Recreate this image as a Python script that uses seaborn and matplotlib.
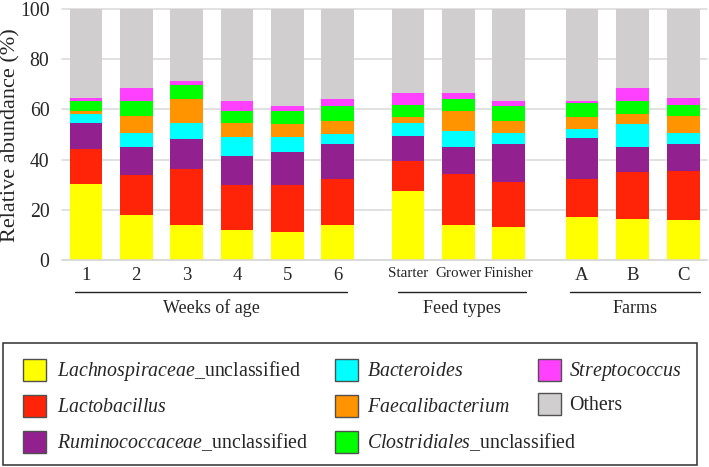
import matplotlib
matplotlib.use("Agg")
import matplotlib.pyplot as plt
from matplotlib.patches import Rectangle
import seaborn as sns
import numpy as np

# ---------------- data ----------------
bars = ["1", "2", "3", "4", "5", "6", "Starter", "Grower", "Finisher", "A", "B", "C"]
positions = [0, 1, 2, 3, 4, 5, 6.4, 7.4, 8.4, 9.86, 10.87, 11.88]
groups = ["Weeks of age", "Feed types", "Farms"]

lachno = [30.4, 17.8, 13.8, 11.8, 11.2, 13.8, 27.6, 13.8, 13.1, 17.1, 16.5, 15.8]
lacto = [13.8, 15.9, 22.5, 17.9, 18.5, 18.5, 11.8, 20.6, 17.8, 15.2, 18.4, 19.8]
rumino = [10.5, 11.2, 11.9, 11.9, 13.2, 13.9, 10.0, 10.5, 15.3, 16.4, 10.0, 10.6]
bacteroides = [3.3, 5.8, 6.5, 7.3, 6.0, 4.0, 5.3, 6.5, 4.5, 3.4, 9.2, 4.5]
faecali = [1.4, 6.8, 9.3, 5.8, 5.2, 5.2, 2.1, 8.0, 4.7, 4.7, 3.9, 6.7]
clostri = [3.9, 5.8, 5.7, 4.5, 5.1, 6.0, 5.1, 4.6, 6.0, 5.7, 5.3, 4.5]
strepto = [1.2, 5.4, 1.6, 4.1, 2.2, 2.6, 4.6, 2.5, 1.9, 0.8, 5.2, 2.6]
others = [35.5, 31.3, 28.7, 36.7, 38.6, 36.0, 33.5, 33.5, 36.7, 36.7, 31.5, 35.5]

taxa_labels = [
    r"$\mathit{Lachnospiraceae}$_unclassified",
    r"$\mathit{Lactobacillus}$",
    r"$\mathit{Ruminococcaceae}$_unclassified",
    r"$\mathit{Bacteroides}$",
    r"$\mathit{Faecalibacterium}$",
    r"$\mathit{Clostridiales}$_unclassified",
    r"$\mathit{Streptococcus}$",
    "Others",
]
series = [lachno, lacto, rumino, bacteroides, faecali, clostri, strepto, others]
colors = ["#FFFF00", "#FF2408", "#93208F", "#00FFFF", "#FF9400", "#00FF00", "#FF40FF", "#D0CECF"]

# ---------------- style ----------------
sns.set_style("white")
plt.rcParams["font.family"] = ["Liberation Serif", "DejaVu Serif"]
plt.rcParams["mathtext.fontset"] = "custom"
plt.rcParams["mathtext.rm"] = "Liberation Serif"
plt.rcParams["mathtext.it"] = "Liberation Serif:italic"

W, H = 709, 467
fig = plt.figure(figsize=(W / 100, H / 100), dpi=100)
ax = fig.add_axes([62 / W, 1 - 260 / H, 645 / W, 251 / H])

def fx(px):
    return px / W

def fy(py):
    return 1 - py / H

# stacked bars: draw cumulative totals from top layer down
cum = np.cumsum(np.array(series), axis=0)
for i in range(len(series) - 1, -1, -1):
    sns.barplot(x=positions, y=cum[i], native_scale=True, width=0.65,
                color=colors[i], saturation=1, errorbar=None,
                edgecolor="none", linewidth=0, ax=ax, zorder=2)

ax.set_xlim(-0.477, 12.346)
ax.set_ylim(0, 100)
ax.set_yticks([0, 20, 40, 60, 80, 100])
ax.set_yticklabels(["0", "20", "40", "60", "80", "100"], fontsize=14.2)
ax.set_xticks(positions)
ax.set_xticklabels(bars)
for lbl, name in zip(ax.get_xticklabels(), bars):
    lbl.set_fontsize(10.9 if name in ("Starter", "Grower", "Finisher") else 13.5)
ax.tick_params(axis="both", length=0)
ax.tick_params(axis="x", pad=5)
ax.tick_params(axis="y", pad=9)
ax.set_xlabel("")
ax.set_ylabel("")

ax.yaxis.grid(True, color="#D9D9D9", linewidth=1.1)
for gl in ax.get_ygridlines():
    gl.set_clip_on(False)
ax.set_axisbelow(True)
for s in ["top", "right", "left"]:
    ax.spines[s].set_visible(False)
ax.spines["bottom"].set_color("#D9D9D9")
ax.spines["bottom"].set_linewidth(1.1)

fig.text(fx(10.5), fy(135), "Relative abundance (%)", rotation=90,
         ha="center", va="center", fontsize=16)

# group brackets under tick labels
trans = ax.get_xaxis_transform()
spans = [(-0.22, 5.19), (6.2, 8.75), (9.62, 12.21)]
for (x0, x1), g in zip(spans, groups):
    ax.plot([x0, x1], [-0.1275, -0.1275], color="#222222", lw=1.0,
            transform=trans, clip_on=False)
    ax.text((x0 + x1) / 2, -0.2116, g, transform=trans, ha="center",
            va="baseline", fontsize=13)

# legend box (manual layout)
fig.patches.append(Rectangle((fx(3), fy(465)), (697 - 3) / W, (465 - 343) / H,
                             transform=fig.transFigure, facecolor="white",
                             edgecolor="#404040", linewidth=1.2))
cols_x = [23, 335, 538]
text_x = [57, 367, 569]
rows_y = [370, 406, 442]
entries = [(0, 0), (0, 1), (0, 2), (1, 0), (1, 1), (1, 2), (2, 0), (2, 1)]
for i, (c, r) in enumerate(entries):
    cy = rows_y[r] if i != 7 else 404
    fig.patches.append(Rectangle((fx(cols_x[c]), fy(cy + 11)), 23 / W, 22 / H,
                                 transform=fig.transFigure, facecolor=colors[i],
                                 edgecolor="#505050", linewidth=1.0))
    fig.text(fx(text_x[c]), fy(cy + 6), taxa_labels[i], ha="left",
             va="baseline", fontsize=14.3)

fig.savefig("out.png", dpi=100)
